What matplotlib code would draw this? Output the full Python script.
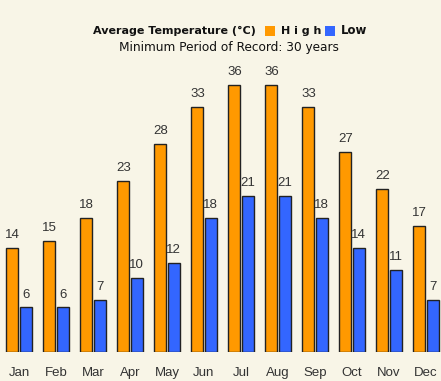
import numpy as np
import matplotlib.pyplot as plt
from matplotlib.patches import Rectangle

months = ['Jan', 'Feb', 'Mar', 'Apr', 'May', 'Jun', 'Jul', 'Aug', 'Sep', 'Oct', 'Nov', 'Dec']
high = [14, 15, 18, 23, 28, 33, 36, 36, 33, 27, 22, 17]
low = [6, 6, 7, 10, 12, 18, 21, 21, 18, 14, 11, 7]

bg = '#F8F5E7'
c_high = '#FF9900'
c_low = '#3366FF'
narrow = ['Liberation Sans Narrow', 'Liberation Sans', 'DejaVu Sans']

W, H = 441, 381
fig = plt.figure(figsize=(W / 100, H / 100), dpi=100, facecolor=bg)
# axes bottom at the bar baseline (y=352 px), top at y=40 px
ax = fig.add_axes([0, (H - 352) / H, 1, (352 - 40) / H])
ax.set_facecolor(bg)

x = np.arange(len(months))
w = 0.32
bh = ax.bar(x - 0.18, high, w, color=c_high, edgecolor='#222222', linewidth=1)
bl = ax.bar(x + 0.18, low, w, color=c_low, edgecolor='#222222', linewidth=1)

for bars, vals in [(bh, high), (bl, low)]:
    for b, v in zip(bars, vals):
        ax.annotate(str(v), (b.get_x() + b.get_width() / 2, v), xytext=(0, 5),
                    textcoords='offset points', ha='center', va='bottom',
                    fontsize=9.5, color='#333333', family=narrow)

ax.set_xlim(-19 / 37, (W - 19) / 37)
ax.set_ylim(0, (352 - 40) / 7.42)
ax.set_xticks(x)
ax.set_xticklabels(months, family=narrow, fontsize=9.5, color='#333333')
ax.tick_params(axis='x', length=0, pad=11)
ax.set_yticks([])
for s in ax.spines.values():
    s.set_visible(False)

fig.text(93 / W, 1 - 31 / H, 'Average Temperature (°C)', fontsize=8, fontweight='bold',
         ha='left', va='center', color='#111111')
fig.patches.append(Rectangle((265 / W, 1 - 36 / H), 10 / W, 10 / H, transform=fig.transFigure,
                             facecolor=c_high, edgecolor='none'))
fig.text(281 / W, 1 - 31 / H, 'H i g h', fontsize=8, fontweight='bold',
         ha='left', va='center', color='#111111')
fig.patches.append(Rectangle((325 / W, 1 - 36 / H), 10 / W, 10 / H, transform=fig.transFigure,
                             facecolor=c_low, edgecolor='none'))
fig.text(341 / W, 1 - 31 / H, 'Low', fontsize=8.5, fontweight='bold',
         ha='left', va='center', color='#111111')
fig.text(229 / W, 1 - 47 / H, 'Minimum Period of Record: 30 years', fontsize=8.7,
         ha='center', va='center', color='#111111')

fig.savefig('out.png', dpi=100, facecolor=bg)
